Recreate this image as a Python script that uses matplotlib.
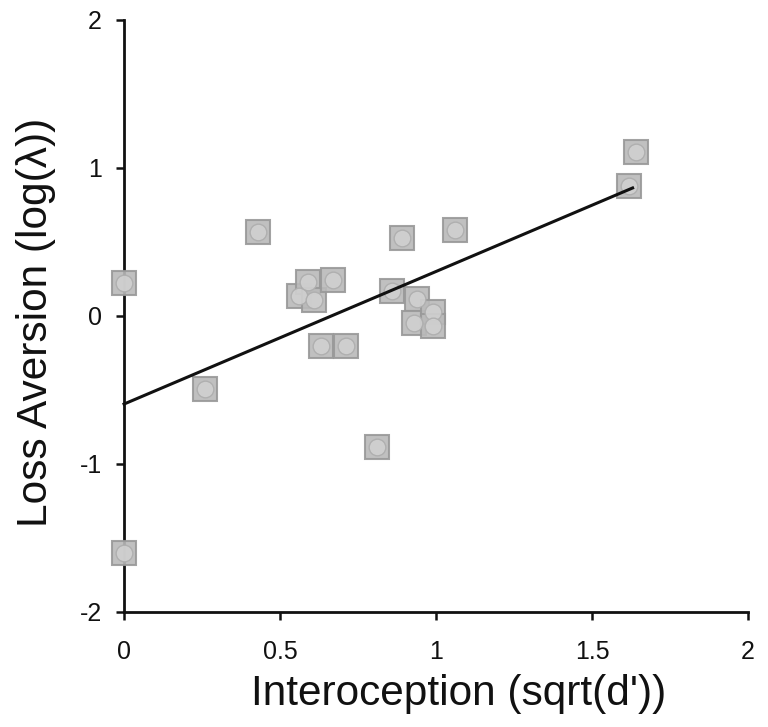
import matplotlib
matplotlib.use("Agg")
import matplotlib.pyplot as plt
import numpy as np

plt.rcParams['font.family'] = ['Liberation Sans', 'DejaVu Sans']

interoception = [0.00, 0.00, 0.26, 0.43, 0.56, 0.59, 0.61, 0.63, 0.67, 0.71,
                 0.81, 0.86, 0.89, 0.94, 0.93, 0.99, 0.99, 1.06, 1.62, 1.64]
loss_aversion = [0.22, -1.60, -0.49, 0.57, 0.135, 0.23, 0.11, -0.20, 0.24, -0.20,
                 -0.885, 0.17, 0.53, 0.115, -0.05, 0.03, -0.07, 0.58, 0.88, 1.11]
fit_x = [0.0, 1.63]
fit_y = [-0.595, 0.865]

x_ticks = [0, 0.5, 1, 1.5, 2]
x_labels = ['0', '0.5', '1', '1.5', '2']
y_ticks = [-2, -1, 0, 1, 2]
y_labels = ['-2', '-1', '0', '1', '2']

fig = plt.figure(figsize=(7.68, 7.27), dpi=100)
ax = fig.add_axes([0.1615, 0.1582, 0.974 - 0.1615, 0.9725 - 0.1582])

ax.plot(interoception, loss_aversion, linestyle='none', marker='s', markersize=17,
        markerfacecolor='#bababa', markeredgecolor='#999999', markeredgewidth=1.5,
        alpha=0.9, zorder=3, clip_on=False)
ax.plot(interoception, loss_aversion, linestyle='none', marker='o', markersize=12,
        markerfacecolor='#d0d0d0', markeredgecolor='#adadad', markeredgewidth=1.0,
        alpha=0.9, zorder=4, clip_on=False)
ax.plot(fit_x, fit_y, color='#111111', linewidth=2.2, zorder=5, clip_on=False)

ax.set_xlim(0, 2)
ax.set_ylim(-2, 2)
ax.set_xticks(x_ticks)
ax.set_xticklabels(x_labels)
ax.set_yticks(y_ticks)
ax.set_yticklabels(y_labels)

for s in ['top', 'right']:
    ax.spines[s].set_visible(False)
for s in ['left', 'bottom']:
    ax.spines[s].set_linewidth(2.0)
    ax.spines[s].set_color('#111111')
ax.tick_params(direction='out', length=6, width=1.8, labelsize=18, colors='#111111')
ax.tick_params(axis='x', pad=14)
ax.tick_params(axis='y', pad=10)

ax.set_xlabel('Interoception (sqrt(d\'))', fontsize=30.5, color='#111111')
ax.set_ylabel('Loss Aversion (log(λ))', fontsize=30.5, color='#111111')
ax.xaxis.set_label_coords(0.537, -0.105)
ax.yaxis.set_label_coords(-0.109, 0.49)

fig.savefig('out.png', dpi=100)
